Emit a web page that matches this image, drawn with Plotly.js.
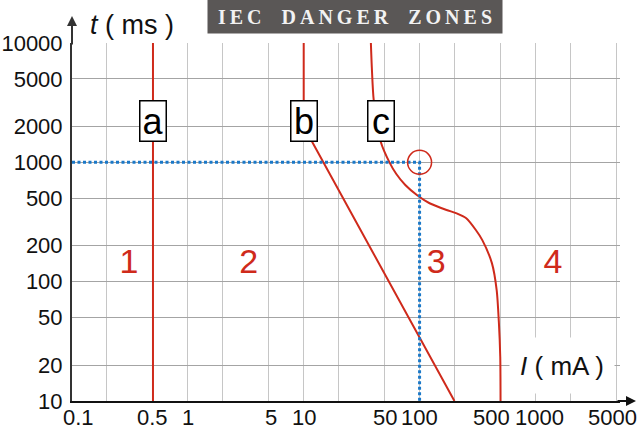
<!DOCTYPE html>
<html>
<head>
<meta charset="utf-8">
<script src="https://cdn.plot.ly/plotly-3.0.1.min.js"></script>
<style>
  html, body { margin: 0; padding: 0; background: #fff; }
  #chart { width: 640px; height: 429px; }
</style>
</head>
<body>
<div id="chart"></div>
<script>
// ---------- data ----------
const currentGrid = [0.1, 0.2, 0.5, 1, 2, 5, 10, 20, 50, 100, 200, 500, 1000, 2000, 5000];
const currentLabelVals = [0.1, 0.5, 1, 5, 10, 50, 100, 500, 1000, 5000];
const currentLabels = ['0.1', '0.5', '1', '5', '10', '50', '100', '500', '1000', '5000'];
const timeTicks = [10, 20, 50, 100, 200, 500, 1000, 2000, 5000, 10000];
const timeTickLabels = ['10', '20', '50', '100', '200', '500', '1000', '2000', '5000', '10000'];

// curve a (mA, ms)
const curveA_I = [0.5, 0.5];
const curveA_t = [10, 10000];
// curve b
const curveB_I = [10, 10, 200];
const curveB_t = [10000, 2000, 10];
// curve c
const curveC_I = [38, 38.7, 40.2, 46.2, 55, 63, 75.3, 96, 122, 171, 209, 253, 306, 348, 421, 463, 484, 497, 500];
const curveC_t = [10000, 6300, 3330, 1490, 1000, 798, 646, 527, 454, 399, 374, 340, 271, 223, 143, 85, 45, 23.5, 10];

// reference point (100 mA, 1000 ms) and its dotted guides
const refI = 100;
const refT = 1000;
const axisMinI = 0.1;
const axisMinT = 10;

// zone numbers and their places
const zoneNames = ['1', '2', '3', '4'];
const zoneI = [0.31, 3.35, 139, 1420];
const zoneT = [138, 138, 138, 138];

// curve labels
const curveNames = ['a', 'b', 'c'];
const curveLabelI = [0.5, 10, 46];
const curveLabelT = [2220, 2220, 2220];

const titleWords = ['IEC', 'DANGER', 'ZONES'];

// ---------- styles ----------
const RED = '#cf2a1b';
const BLUE = '#1a78c8';
const SANS = 'Liberation Sans, Arial, sans-serif';
// small horizontal nudges (px) of x tick labels, as in the reference
const xLabelNudge = { '0.1': 6, '5': 2, '500': -9, '1000': 4, '5000': -4 };

const traces = [
  { x: curveA_I, y: curveA_t, mode: 'lines', line: { color: RED, width: 2 }, hoverinfo: 'skip' },
  { x: curveB_I, y: curveB_t, mode: 'lines', line: { color: RED, width: 2 }, hoverinfo: 'skip' },
  { x: curveC_I, y: curveC_t, mode: 'lines', line: { color: RED, width: 2, shape: 'spline', smoothing: 0.7 }, hoverinfo: 'skip' },
  { x: [axisMinI, refI, refI], y: [refT, refT, axisMinT], mode: 'lines',
    line: { color: BLUE, width: 3, dash: '3px,2.5px' }, hoverinfo: 'skip' },
  { x: [refI], y: [refT], mode: 'markers',
    marker: { symbol: 'circle-open', size: 24, color: RED, line: { width: 1.5, color: RED } }, hoverinfo: 'skip' },
  { x: zoneI, y: zoneT, mode: 'text', text: zoneNames,
    textfont: { family: SANS, size: 34, color: RED }, textposition: 'middle center', hoverinfo: 'skip' }
];

const annotations = [];
curveNames.forEach((n, i) => {
  annotations.push({
    x: Math.log10(curveLabelI[i]), y: Math.log10(curveLabelT[i]), xref: 'x', yref: 'y',
    text: n, showarrow: false, font: { family: SANS, size: 36, color: '#000' },
    bgcolor: '#fff', bordercolor: '#000', borderwidth: 1.5, borderpad: 0,
    width: 25, height: 39, xanchor: 'center', yanchor: 'middle'
  });
});

// x tick labels
currentLabelVals.forEach((v, i) => {
  annotations.push({
    x: Math.log10(v), xref: 'x', y: 0, yref: 'paper', xanchor: 'center', yanchor: 'top',
    yshift: -3, xshift: xLabelNudge[currentLabels[i]] || 0,
    text: currentLabels[i], showarrow: false, borderpad: 0,
    font: { family: SANS, size: 22, color: '#111' }
  });
});

const sp = '\u2009';
const titleText = titleWords.map(w => w.split('').join(sp)).join('\u2003');
annotations.push({
  x: 0.5164, y: 1.074, xref: 'paper', yref: 'paper', xanchor: 'center', yanchor: 'middle',
  text: '<b>' + titleText + '</b>', showarrow: false,
  font: { family: 'Liberation Serif, Times New Roman, serif', size: 20, color: '#f2f2f2' },
  bgcolor: '#5a5756', borderpad: 0, width: 294, height: 33
});
annotations.push({
  x: 0.1095, y: 1.05, xref: 'paper', yref: 'paper', xanchor: 'center', yanchor: 'middle',
  text: '<i>t</i> ( ms )', showarrow: false, font: { family: SANS, size: 27, color: '#111' }
});
annotations.push({
  x: 0.894, y: 0.1, xref: 'paper', yref: 'paper', xanchor: 'center', yanchor: 'middle',
  text: '<i>I</i> ( mA )', showarrow: false, font: { family: SANS, size: 26, color: '#111' },
  bgcolor: '#fff', borderpad: 0, width: 104, height: 55
});
// axis arrows
annotations.push({
  x: 1.0292, y: 0, xref: 'paper', yref: 'paper', ax: -20, ay: 0, text: '', showarrow: true,
  arrowhead: 2, arrowsize: 1, arrowwidth: 2, arrowcolor: '#111', standoff: 0
});
annotations.push({
  x: 0, y: 1.0754, xref: 'paper', yref: 'paper', ax: 0, ay: 30, text: '', showarrow: true,
  arrowhead: 2, arrowsize: 1, arrowwidth: 2, arrowcolor: '#333', standoff: 0
});

const layout = {
  width: 640, height: 429,
  margin: { l: 72, r: 20, t: 43, b: 28, pad: 0 },
  paper_bgcolor: '#fff', plot_bgcolor: '#fff',
  showlegend: false,
  font: { family: SANS, size: 22, color: '#111' },
  xaxis: {
    type: 'log', range: [-1, 3.73], tickmode: 'array',
    tickvals: currentGrid, showticklabels: false,
    showgrid: true, gridcolor: '#c6c6c6', gridwidth: 1,
    showline: true, linecolor: '#111', linewidth: 2,
    ticks: '', zeroline: false, fixedrange: true, automargin: false
  },
  yaxis: {
    type: 'log', range: [1, 4], tickmode: 'array',
    tickvals: timeTicks, ticktext: timeTickLabels, tickangle: 0, ticklabelstandoff: 3,
    showgrid: true, gridcolor: '#a4a4a4', gridwidth: 1,
    showline: true, linecolor: '#333', linewidth: 2,
    ticks: '', tickfont: { family: SANS, size: 22, color: '#111' },
    zeroline: false, fixedrange: true, automargin: false
  },
  annotations: annotations
};

Plotly.newPlot('chart', traces, layout, { staticPlot: true, displayModeBar: false });
</script>
</body>
</html>
